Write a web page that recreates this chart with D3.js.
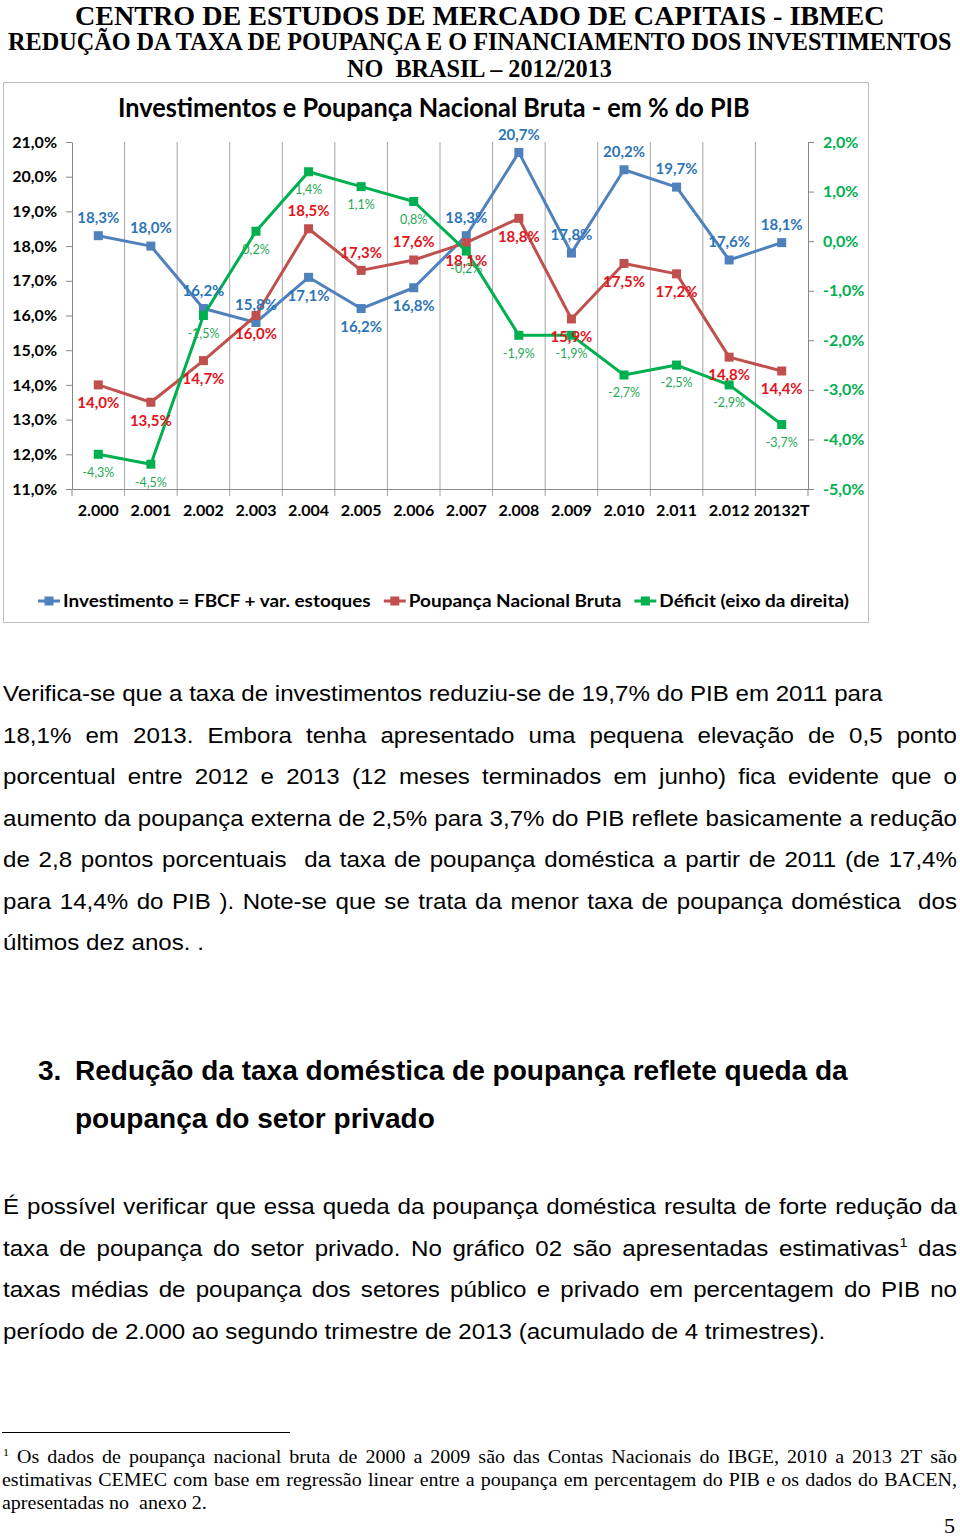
<!DOCTYPE html>
<html>
<head>
<meta charset="utf-8">
<script src="https://cdn.jsdelivr.net/npm/d3@7"></script>
<style>
  body { margin: 0; background: #fff; }
  svg { display: block; }
  text { white-space: pre; }
</style>
</head>
<body>
<div id="page"></div>
<script>
// chart data
const categories = ["2.000", "2.001", "2.002", "2.003", "2.004", "2.005", "2.006", "2.007", "2.008", "2.009", "2.010", "2.011", "2.012", "20132T"];
const investimento = [18.3, 18.0, 16.2, 15.8, 17.1, 16.2, 16.8, 18.3, 20.7, 17.8, 20.2, 19.7, 17.6, 18.1];
const poupanca = [14.0, 13.5, 14.7, 16.0, 18.5, 17.3, 17.6, 18.1, 18.8, 15.9, 17.5, 17.2, 14.8, 14.4];
const deficit = [-4.3, -4.5, -1.5, 0.2, 1.4, 1.1, 0.8, -0.2, -1.9, -1.9, -2.7, -2.5, -2.9, -3.7];
const leftTicks = [11, 12, 13, 14, 15, 16, 17, 18, 19, 20, 21];
const rightTicks = [-5, -4, -3, -2, -1, 0, 1, 2];
const seriesNames = ["Investimento = FBCF + var. estoques", "Poupança Nacional Bruta", "Déficit (eixo da direita)"];

// texts of the page
const header = ["CENTRO DE ESTUDOS DE MERCADO DE CAPITAIS - IBMEC",
  "REDUÇÃO DA TAXA DE POUPANÇA E O FINANCIAMENTO DOS INVESTIMENTOS",
  "NO  BRASIL – 2012/2013"];
const chartTitle = "Investimentos e Poupança Nacional Bruta - em % do PIB";
const para1 = [
  "Verifica-se que a taxa de investimentos reduziu-se de 19,7% do PIB em 2011 para",
  "18,1% em 2013. Embora tenha apresentado uma pequena elevação de 0,5 ponto",
  "porcentual entre 2012 e 2013 (12 meses terminados em junho) fica evidente que o",
  "aumento da poupança externa de 2,5% para 3,7% do PIB reflete basicamente a redução",
  "de 2,8 pontos porcentuais  da taxa de poupança doméstica a partir de 2011 (de 17,4%",
  "para 14,4% do PIB ). Note-se que se trata da menor taxa de poupança doméstica  dos",
  "últimos dez anos. ."
];
const heading = ["Redução da taxa doméstica de poupança reflete queda da", "poupança do setor privado"];
const para2 = [
  "É possível verificar que essa queda da poupança doméstica resulta de forte redução da",
  "taxa de poupança do setor privado. No gráfico 02 são apresentadas estimativas^1 das",
  "taxas médias de poupança dos setores público e privado em percentagem do PIB no",
  "período de 2.000 ao segundo trimestre de 2013 (acumulado de 4 trimestres)."
];
const footnote = [
  "^1 Os dados de poupança nacional bruta de 2000 a 2009 são das Contas Nacionais do IBGE, 2010 a 2013 2T são",
  "estimativas CEMEC com base em regressão linear entre a poupança em percentagem do PIB e os dados do BACEN,",
  "apresentadas no  anexo 2."
];

const W = 960, H = 1538;
const svg = d3.select("#page").append("svg").attr("width", W).attr("height", H);
svg.append("rect").attr("width", W).attr("height", H).attr("fill", "#fff");

const SANS = "Liberation Sans, Arial, sans-serif";
const SERIF = "Liberation Serif, Times New Roman, serif";
const CHART = "Lato, Carlito, sans-serif";

// write a word (with optional ^superscript) into a group
function wordNode(g, str, font) {
  const t = g.append("text")
    .attr("font-family", font.family)
    .attr("font-size", font.size)
    .attr("font-weight", font.weight || "normal")
    .attr("fill", font.fill || "#000");
  const parts = str.split("^");
  if (parts[0]) t.append("tspan").text(parts[0]);
  if (parts.length > 1) {
    t.append("tspan").attr("font-size", font.size * 0.6).attr("dy", -font.size * 0.4).text(parts[1]);
  }
  return t;
}
function natWidth(str, font) {
  const g = svg.append("g");
  const w = wordNode(g, str, font).node().getComputedTextLength();
  g.remove();
  return w;
}
// plain line, glyphs squeezed by r
function plainLine(str, x, y, font, r) {
  const g = svg.append("g").attr("transform", `translate(${x},${y}) scale(${r},1)`);
  wordNode(g, str, font);
}
// justified line between x0 and x1
function justLine(str, x0, x1, y, font, r) {
  const words = str.split(" ");
  const ws = words.map(w => natWidth(w, font) * r);
  const gap = (x1 - x0 - d3.sum(ws)) / (words.length - 1);
  let x = x0;
  words.forEach((w, i) => {
    if (w) plainLine(w, x, y, font, r);
    x += ws[i] + gap;
  });
}
function fitLine(str, x, width, y, font) {
  plainLine(str, x, y, font, width / natWidth(str, font));
}

// ---------- page header ----------
const hFont1 = { family: SERIF, size: 27, weight: "bold" };
const hFont2 = { family: SERIF, size: 26, weight: "bold" };
fitLine(header[0], 75, 810, 24.5, hFont1);
fitLine(header[1], 8, 944, 50, hFont2);
fitLine(header[2], 347, 265, 77, hFont2);

// ---------- chart ----------
svg.append("rect")
  .attr("x", 3.5).attr("y", 82.5).attr("width", 865).attr("height", 540)
  .attr("fill", "#fff").attr("stroke", "#BEBEBE").attr("stroke-width", 1);

fitLine(chartTitle, 118, 632, 117, { family: CHART, size: 26, weight: "bold" });

const plot = { left: 72, right: 808, top: 142, bottom: 489 };
const x = d3.scaleBand().domain(categories).range([plot.left, plot.right]);
const yL = d3.scaleLinear().domain([11, 21]).range([plot.bottom, plot.top]);
const yR = d3.scaleLinear().domain([-5, 2]).range([plot.bottom, plot.top]);
const pct = v => d3.format(".1f")(v).replace("−", "-").replace(".", ",") + "%";
const axisColor = "#888";

// vertical gridlines at category boundaries
const bounds = categories.slice(1).map(c => x(c));
svg.append("g").selectAll("line").data(bounds).join("line")
  .attr("x1", d => d).attr("x2", d => d)
  .attr("y1", plot.top).attr("y2", plot.bottom + 7)
  .attr("stroke", "#A6A6A6").attr("stroke-width", 1);

// left axis
const gL = svg.append("g").attr("transform", `translate(${plot.left},0)`)
  .call(d3.axisLeft(yL).tickValues(leftTicks).tickFormat(pct).tickSize(6).tickSizeOuter(0).tickPadding(9));
gL.selectAll("path, line").attr("stroke", axisColor);
gL.selectAll("text").attr("font-family", CHART).attr("font-size", 16).attr("font-weight", "bold").attr("fill", "#000");

// right axis
const gR = svg.append("g").attr("transform", `translate(${plot.right},0)`)
  .call(d3.axisRight(yR).tickValues(rightTicks).tickFormat(pct).tickSize(6).tickSizeOuter(0).tickPadding(9));
gR.selectAll("path, line").attr("stroke", axisColor);
gR.selectAll("text").attr("font-family", CHART).attr("font-size", 16).attr("font-weight", "bold").attr("fill", "#00B050");

// bottom axis: labels at band centres, ticks at boundaries
const gB = svg.append("g").attr("transform", `translate(0,${plot.bottom})`)
  .call(d3.axisBottom(x).tickSize(0).tickPadding(16));
gB.select("path").attr("stroke", axisColor).attr("d", `M${plot.left},0.5H${plot.right}`);
gB.selectAll("text").attr("font-family", CHART).attr("font-size", 16).attr("font-weight", "bold").attr("fill", "#000");
svg.append("g").selectAll("line").data([plot.left, plot.right]).join("line")
  .attr("x1", d => d).attr("x2", d => d).attr("y1", plot.bottom).attr("y2", plot.bottom + 7)
  .attr("stroke", axisColor);

const cx = c => x(c) + x.bandwidth() / 2;
const series = [
  { values: investimento, y: yL, line: "#4F81BD", text: "#2E75B6", size: 15, weight: "bold", below: new Set([4, 5, 6]) },
  { values: poupanca, y: yL, line: "#C0504D", text: "#E2141C", size: 15, weight: "bold", below: new Set([0, 1, 2, 3, 7, 8, 9, 10, 11, 12, 13]) },
  { values: deficit, y: yR, line: "#00B050", text: "#1FA855", size: 12.5, weight: "normal", below: new Set(categories.map((c, i) => i)) }
];

const lineGen = s => d3.line().x((d, i) => cx(categories[i])).y(d => s.y(d));
series.forEach(s => {
  const g = svg.append("g");
  g.append("path").datum(s.values)
    .attr("d", lineGen(s))
    .attr("fill", "none").attr("stroke", s.line).attr("stroke-width", 3).attr("stroke-linejoin", "round");
  g.selectAll("rect").data(s.values).join("rect")
    .attr("x", (d, i) => cx(categories[i]) - 4.5)
    .attr("y", d => s.y(d) - 4.5)
    .attr("width", 9).attr("height", 9)
    .attr("fill", s.line);
});
series.forEach(s => {
  svg.append("g").selectAll("text").data(s.values).join("text")
    .attr("x", (d, i) => cx(categories[i]))
    .attr("y", (d, i) => s.below.has(i) ? s.y(d) + 18 + s.size * 0.35 : s.y(d) - 18 + s.size * 0.35)
    .attr("text-anchor", "middle")
    .attr("font-family", CHART).attr("font-size", s.size).attr("font-weight", s.weight)
    .attr("fill", s.text)
    .text(d => pct(d));
});

// legend
const legFont = { family: CHART, size: 17, weight: "bold" };
const legNat = seriesNames.map(n => natWidth(n, legFont));
const legR = 710 / d3.sum(legNat);
let lx = 38;
const ly = 601;
seriesNames.forEach((name, i) => {
  const s = series[i];
  const g = svg.append("g");
  g.append("line").attr("x1", lx).attr("x2", lx + 22).attr("y1", ly).attr("y2", ly)
    .attr("stroke", s.line).attr("stroke-width", 3);
  g.append("rect").attr("x", lx + 6.5).attr("y", ly - 4.5).attr("width", 9).attr("height", 9).attr("fill", s.line);
  plainLine(name, lx + 25, ly + 6, legFont, legR);
  lx += 25 + legNat[i] * legR + 13;
});

// ---------- body text ----------
const bodyFont = { family: SANS, size: 22 };
const r1 = 880 / natWidth(para1[0], bodyFont);
const base1 = 701, lh = 41.5;
para1.forEach((ln, i) => {
  const y = base1 + i * lh;
  if (i === 0 || i === para1.length - 1) plainLine(ln, 3, y, bodyFont, r1);
  else justLine(ln, 3, 957, y, bodyFont, r1);
});

const headFont = { family: SANS, size: 27, weight: "bold" };
const rh = 773 / natWidth(heading[0], headFont);
plainLine("3.", 38, 1080, headFont, rh);
plainLine(heading[0], 75, 1080, headFont, rh);
plainLine(heading[1], 75, 1128, headFont, rh);

const base2 = 1214;
para2.forEach((ln, i) => {
  const y = base2 + i * lh;
  if (i === para2.length - 1) plainLine(ln, 3, y, bodyFont, r1);
  else justLine(ln, 3, 957, y, bodyFont, r1);
});

// footnote
svg.append("line").attr("x1", 2).attr("x2", 290).attr("y1", 1432.5).attr("y2", 1432.5)
  .attr("stroke", "#000").attr("stroke-width", 1.2);
const fnFont = { family: SERIF, size: 18 };
const rf = 205 / natWidth(footnote[2], fnFont);
footnote.forEach((ln, i) => {
  const y = 1463 + i * 23;
  if (i === footnote.length - 1) plainLine(ln, 2, y, fnFont, rf);
  else justLine(ln, i === 0 ? 3 : 2, 957, y, fnFont, rf);
});
plainLine("5", 944, 1533, { family: SERIF, size: 22 }, 1);
</script>
</body>
</html>
